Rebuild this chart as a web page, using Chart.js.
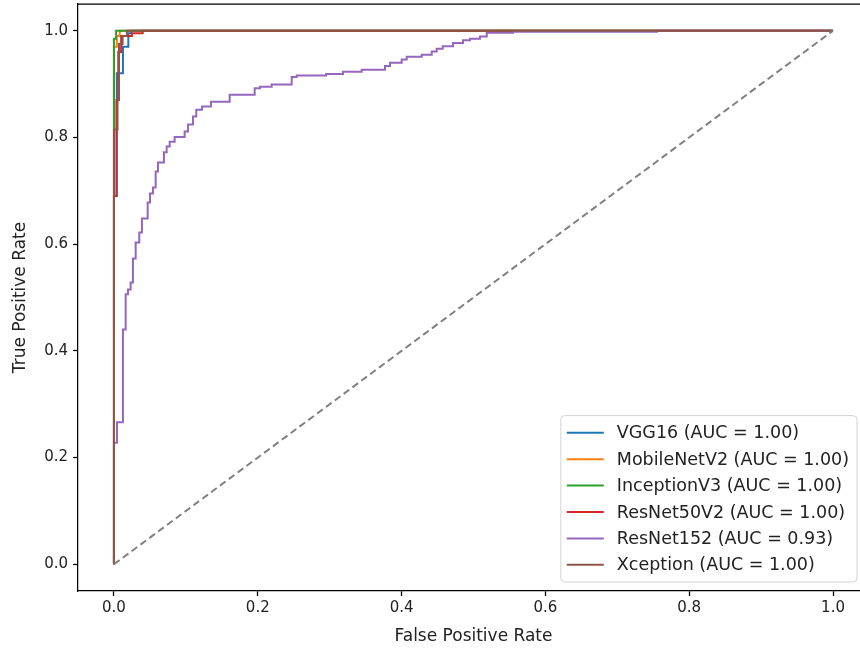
<html>
<head>
<meta charset="utf8"/>
<title>ROC curves</title>
<script src="https://cdn.jsdelivr.net/npm/chart.js"></script>
<style type="text/css">
html, body{
  margin: 0;
  padding: 0;
  background-color: #fff;
  overflow: hidden;
}
#roc{
  display: block;
}
</style>
</head>
<body>
<canvas id="roc" width="870" height="648"></canvas>
<script>
// ---- data ----
const xTicks = [0.0, 0.2, 0.4, 0.6, 0.8, 1.0];
const yTicks = [0.0, 0.2, 0.4, 0.6, 0.8, 1.0];

const modelNames = ['VGG16', 'MobileNetV2', 'InceptionV3', 'ResNet50V2', 'ResNet152', 'Xception'];
const aucValues = [1.00, 1.00, 1.00, 1.00, 0.93, 1.00];
const colors = ['#1f77b4', '#ff7f0e', '#2ca02c', '#d62728', '#9467bd', '#8c564b'];

const fprVGG16 = [0, 0, 0.004, 0.004, 0.0125, 0.0125, 0.02, 0.02, 0.024, 0.024, 1];
const tprVGG16 = [0, 0.69, 0.69, 0.92, 0.92, 0.97, 0.97, 0.995, 0.995, 1, 1];

const fprMobileNetV2 = [0, 0, 0.004, 0.004, 0.008, 0.008, 1];
const tprMobileNetV2 = [0, 0.97, 0.97, 0.99, 0.99, 1, 1];

const fprInceptionV3 = [0, 0, 0.003, 0.003, 1];
const tprInceptionV3 = [0, 0.985, 0.985, 1, 1];

const fprResNet50V2 = [0, 0, 0.0035, 0.0035, 0.006, 0.006, 0.01, 0.01, 0.025, 0.025, 0.04, 0.04, 1];
const tprResNet50V2 = [0, 0.69, 0.69, 0.87, 0.87, 0.96, 0.96, 0.99, 0.99, 0.995, 0.995, 1, 1];

const fprResNet152 = [0, 0, 0.0042, 0.0042, 0.0125, 0.0125, 0.0163, 0.0163, 0.0195, 0.0195,
  0.0232, 0.0232, 0.0264, 0.0264, 0.0302, 0.0302, 0.0352, 0.0352, 0.0389, 0.0389,
  0.0469, 0.0469, 0.0501, 0.0501, 0.0542, 0.0542, 0.0580, 0.0580, 0.0612, 0.0612,
  0.0695, 0.0695, 0.0733, 0.0733, 0.0775, 0.0775, 0.0844, 0.0844, 0.0983, 0.0983,
  0.1029, 0.1029, 0.1099, 0.1099, 0.1145, 0.1145, 0.1224, 0.1224, 0.1349, 0.1349,
  0.1609, 0.1609, 0.1957, 0.1957, 0.2031, 0.2031, 0.2193, 0.2193, 0.2472, 0.2472,
  0.2541, 0.2541, 0.2949, 0.2949, 0.3185, 0.3185, 0.3445, 0.3445, 0.3769, 0.3769,
  0.3839, 0.3839, 0.4001, 0.4001, 0.4071, 0.4071, 0.4280, 0.4280, 0.4419, 0.4419,
  0.4488, 0.4488, 0.4572, 0.4572, 0.4715, 0.4715, 0.4854, 0.4854, 0.4951, 0.4951,
  0.5090, 0.5090, 0.5184, 0.5184, 0.5549, 0.5549, 0.755, 0.755, 1];
const tprResNet152 = [0, 0.228, 0.228, 0.266, 0.266, 0.440, 0.440, 0.506, 0.506, 0.515,
  0.515, 0.528, 0.528, 0.573, 0.573, 0.603, 0.603, 0.622, 0.622, 0.648,
  0.648, 0.678, 0.678, 0.695, 0.695, 0.706, 0.706, 0.736, 0.736, 0.753,
  0.753, 0.772, 0.772, 0.783, 0.783, 0.792, 0.792, 0.801, 0.801, 0.811,
  0.811, 0.824, 0.824, 0.839, 0.839, 0.852, 0.852, 0.858, 0.858, 0.867,
  0.867, 0.880, 0.880, 0.892, 0.892, 0.895, 0.895, 0.899, 0.899, 0.913,
  0.913, 0.916, 0.916, 0.919, 0.919, 0.923, 0.923, 0.927, 0.927, 0.934,
  0.934, 0.940, 0.940, 0.946, 0.946, 0.951, 0.951, 0.955, 0.955, 0.961,
  0.961, 0.966, 0.966, 0.971, 0.971, 0.977, 0.977, 0.982, 0.982, 0.985,
  0.985, 0.989, 0.989, 0.996, 0.996, 0.998, 0.998, 1, 1];

const fprXception = [0, 0, 0.005, 0.005, 0.007, 0.007, 0.012, 0.012, 0.018, 0.018, 1];
const tprXception = [0, 0.815, 0.815, 0.87, 0.87, 0.975, 0.975, 0.99, 0.99, 1, 1];

const chanceX = [0, 1];
const chanceY = [0, 1];

const fprs = [fprVGG16, fprMobileNetV2, fprInceptionV3, fprResNet50V2, fprResNet152, fprXception];
const tprs = [tprVGG16, tprMobileNetV2, tprInceptionV3, tprResNet50V2, tprResNet152, tprXception];

// ---- chart ----
Chart.defaults.font.family = '"DejaVu Sans", sans-serif';
Chart.defaults.color = '#222';

function toPoints( xs, ys ){
  return xs.map( function( x, i ){ return { x: x, y: ys[i] }; } );
}

const datasets = modelNames.map( function( name, i ){
  return {
    label: name + ' (AUC = ' + aucValues[i].toFixed(2) + ')',
    data: toPoints( fprs[i], tprs[i] ),
    borderColor: colors[i],
    backgroundColor: colors[i],
    borderWidth: 2,
    pointRadius: 0,
    showLine: true,
    fill: false,
    order: modelNames.length - i
  };
});
datasets.push({
  label: '',
  data: toPoints( chanceX, chanceY ),
  borderColor: '#808080',
  borderWidth: 2,
  borderDash: [7, 4],
  pointRadius: 0,
  showLine: true,
  fill: false,
  order: 0
});

// top / right spines
const spines = {
  id: 'spines',
  afterDraw( chart ){
    const ctx = chart.ctx;
    const a = chart.chartArea;
    ctx.save();
    ctx.strokeStyle = '#000';
    ctx.lineWidth = 1.25;
    ctx.beginPath();
    ctx.moveTo( a.left, a.top );
    ctx.lineTo( a.right, a.top );
    ctx.lineTo( a.right, a.bottom );
    ctx.stroke();
    ctx.restore();
  }
};

// legend box in the lower right of the plot
const legendBox = {
  id: 'legendBox',
  afterDraw( chart ){
    const ctx = chart.ctx;
    const a = chart.chartArea;
    const items = chart.data.datasets.filter( function( d ){ return d.label; } );
    ctx.save();
    ctx.font = '17.5px "DejaVu Sans", sans-serif';
    let textW = 0;
    items.forEach( function( d ){ textW = Math.max( textW, ctx.measureText( d.label ).width ); } );
    const rowH = 26.4;
    const w = 6 + 37 + 13 + textW + 8;
    const h = items.length * rowH + 8;
    const right = a.right - 12;
    const bottom = a.bottom - 9;
    const left = right - w;
    const top = bottom - h;
    ctx.beginPath();
    ctx.roundRect( left, top, w, h, 4 );
    ctx.fillStyle = 'rgba(255,255,255,0.8)';
    ctx.fill();
    ctx.strokeStyle = '#d4d4d4';
    ctx.lineWidth = 1;
    ctx.stroke();
    items.forEach( function( d, i ){
      const y = top + 4 + rowH * ( i + 0.5 );
      ctx.beginPath();
      ctx.moveTo( left + 6, y );
      ctx.lineTo( left + 43, y );
      ctx.strokeStyle = d.borderColor;
      ctx.lineWidth = 2;
      ctx.stroke();
      ctx.fillStyle = '#222';
      ctx.textBaseline = 'middle';
      ctx.fillText( d.label, left + 56, y + 1 );
    });
    ctx.restore();
  }
};

const rocChart = new Chart( document.getElementById( 'roc' ), {
  type: 'scatter',
  data: { datasets: datasets },
  options: {
    responsive: false,
    animation: false,
    layout: { padding: { top: 4, right: 1, left: 0, bottom: 0 } },
    plugins: {
      legend: { display: false },
      tooltip: { enabled: false }
    },
    scales: {
      x: {
        type: 'linear',
        min: -0.05,
        max: 1.05,
        afterBuildTicks: function( scale ){ scale.ticks = xTicks.map( function( v ){ return { value: v }; } ); },
        afterFit: function( scale ){
          scale.height = 57;
          scale.paddingLeft = 0;
          scale.paddingRight = 0;
        },
        ticks: {
          font: { size: 15 },
          color: '#222',
          padding: 3,
          maxRotation: 0,
          callback: function( v ){ return Number( v ).toFixed( 1 ); }
        },
        grid: { drawOnChartArea: false, drawTicks: true, tickLength: 5, color: '#000', tickWidth: 1.25 },
        border: { display: true, color: '#000', width: 1.25 },
        title: { display: true, text: 'False Positive Rate', font: { size: 17 }, color: '#222', padding: { top: 0, bottom: 1 } }
      },
      y: {
        type: 'linear',
        min: -0.05,
        max: 1.05,
        afterBuildTicks: function( scale ){ scale.ticks = yTicks.map( function( v ){ return { value: v }; } ); },
        afterFit: function( scale ){
          scale.width = 78;
          scale.paddingTop = 0;
          scale.paddingBottom = 0;
        },
        ticks: {
          font: { size: 15 },
          color: '#222',
          padding: 5,
          callback: function( v ){ return Number( v ).toFixed( 1 ); }
        },
        grid: { drawOnChartArea: false, drawTicks: true, tickLength: 5, color: '#000', tickWidth: 1.25 },
        border: { display: true, color: '#000', width: 1.25 },
        title: { display: true, text: 'True Positive Rate', font: { size: 17 }, color: '#222', padding: { top: 10, bottom: 0 } }
      }
    }
  },
  plugins: [ spines, legendBox ]
});
</script>
</body>
</html>
